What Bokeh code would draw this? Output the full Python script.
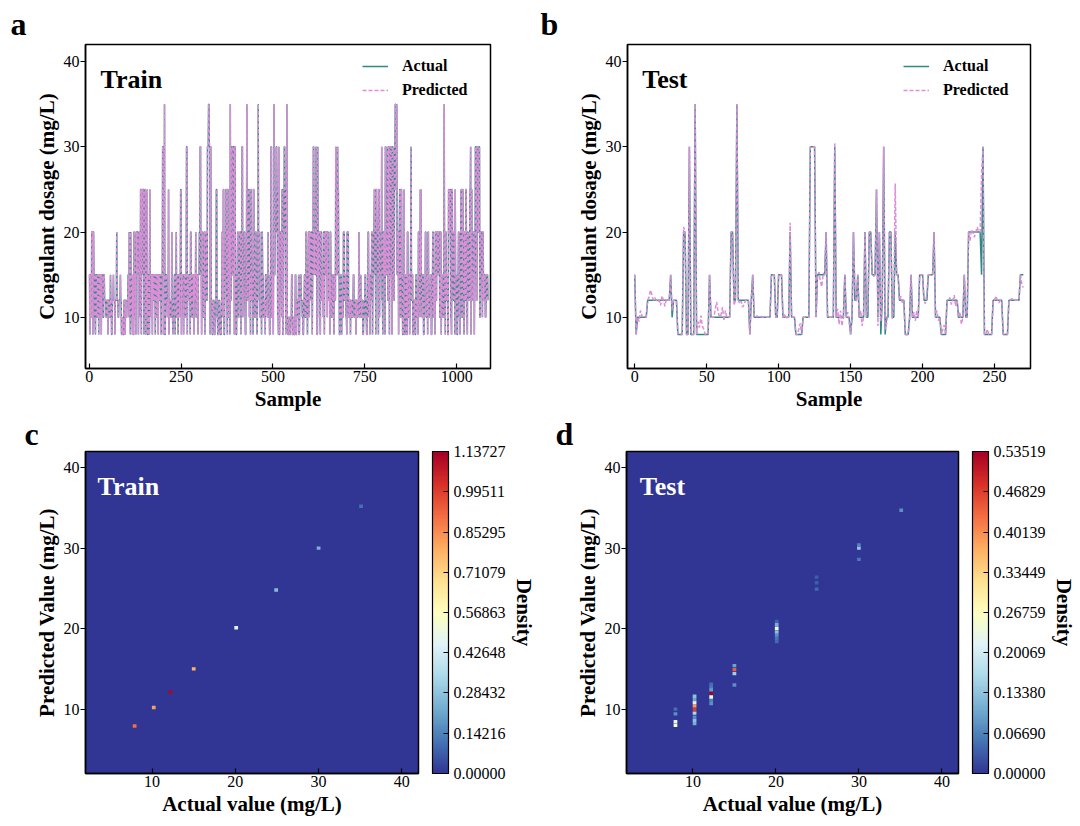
import numpy as np
from bokeh.plotting import figure
from bokeh.layouts import column, row
from bokeh.models import (Range1d, FixedTicker, Legend, LegendItem, Label, ColorBar,
                          LinearColorMapper, PrintfTickFormatter, Title, ColumnDataSource)
from bokeh.transform import transform
from bokeh.embed import file_html
from bokeh.resources import INLINE

# ---------------- data ----------------
# Train series as (dosage level, run length) pairs
train_segments = [
    (15,2),(8,1),(15,2),(10,2),(20,3),(8,1),(20,2),(15,2),(10,2),(8,1),(15,3),(10,2),
    (15,3),(8,1),(15,2),(10,1),(15,3),(8,1),(15,4),(10,2),(15,2),
    (12,4),(10,2),(12,3),(8,1),(12,4),(10,2),(15,1),(12,2),
    (8,2),(12,3),(15,1),(12,3),(8,1),(12,4),(20,1),(12,3),(10,2),(12,4),
    (15,1),(12,2),(8,3),(10,1),(8,3),(12,3),(8,1),(12,2),(10,2),(12,3),
    (15,2),(10,1),(20,1),(15,2),(8,1),(20,1),(15,2),(10,2),(8,1),(15,1),
    (8,2),(20,2),(10,1),(15,2),(8,1),(20,2),(15,1),(20,3),(8,1),(15,2),(20,2),
    (10,1),(25,2),(8,1),(25,2),(15,1),(25,3),(8,1),(15,2),(25,2),(8,1),(15,2),
    (10,1),(25,1),(8,2),(15,3),(8,1),(25,1),(15,3),(10,1),(15,2),(8,1),
    (15,2),(12,2),(15,3),(8,1),(15,2),(10,2),(15,3),(8,1),(15,2),(12,2),
    (15,3),(8,1),(15,3),
    (30,2),(8,1),(15,2),(35,1),(8,2),(15,3),(12,2),(10,1),(12,2),(25,1),
    (8,1),(12,3),(10,2),(12,2),(20,1),(10,2),(8,1),(12,3),(15,2),(8,1),
    (15,2),(20,1),(10,2),(15,2),(8,1),(15,3),(10,1),(15,2),(25,2),(8,1),
    (15,3),(12,2),(8,1),(15,3),(10,2),(15,2),(30,2),(8,1),(15,2),
    (12,3),(15,2),(8,1),(20,2),(12,2),(10,2),(15,3),(8,1),
    (15,2),(12,2),(20,1),(10,2),(15,3),(8,1),(15,3),
    (20,2),(30,2),(15,2),(8,1),(20,2),(15,2),(10,2),(20,2),(8,1),(15,2),
    (20,2),(12,2),(30,3),(35,2),(30,2),(8,1),(30,2),(12,3),
    (8,2),(12,2),(10,2),(8,2),(12,3),(25,2),(10,2),(8,3),
    (12,2),(10,2),(8,3),(12,2),(20,2),(10,1),(25,2),(8,2),
    (15,3),(25,2),(12,2),(8,1),(25,2),(10,2),(20,2),(8,1),(35,1),
    (12,2),(30,3),(15,2),(30,3),(8,1),(30,2),(12,2),
    (8,2),(15,2),(20,2),(10,2),(15,2),(20,3),(8,1),(15,2),(30,2),(10,1),
    (15,3),(20,2),(12,1),(8,2),(15,2),(35,1),(12,2),(15,2),(25,2),(10,1),(15,2),
    (8,1),(25,2),(12,2),(15,2),(8,1),(25,2),(15,2),(10,2),(20,2),(12,2),
    (8,1),(12,2),(35,1),(15,2),(20,2),(10,2),(15,2),(8,1),(20,2),(15,2),
    (10,3),(12,2),(8,1),(15,3),(12,2),(10,2),(20,1),(12,3),
    (8,2),(15,2),(30,2),(10,2),(15,2),(8,1),(20,1),
    (35,1),(15,2),(20,3),(30,2),(25,2),(10,2),(8,1),(30,1),(8,2),(15,2),
    (20,3),(10,1),(25,2),(8,2),(20,2),(30,2),(25,2),(8,1),(10,2),
    (35,1),(10,2),(8,2),(10,3),(8,2),(10,3),(15,2),(8,3),
    (10,2),(8,3),(15,2),(8,2),(12,3),(10,2),(15,1),(8,2),
    (12,2),(15,2),(12,3),(10,2),(8,2),(12,2),(15,2),(10,2),
    (20,2),(12,2),(8,1),(15,2),(20,2),(10,1),(20,2),(12,1),
    (15,2),(20,2),(8,1),(15,2),(30,2),(15,1),(20,2),(15,2),(30,1),(20,2),(8,2),
    (30,1),(15,2),(20,2),(10,2),(8,1),(20,3),(12,2),(15,2),(10,1),
    (20,2),(8,1),(20,3),(15,2),(20,2),(10,1),(20,2),(12,2),(15,2),(8,1),
    (20,2),(12,2),(10,2),(15,2),(12,2),(8,1),(15,2),(12,2),(30,1),(25,2),(15,2),
    (30,1),(25,2),(15,2),(8,2),(12,2),(15,2),(8,1),(12,2),(10,2),
    (20,3),(12,2),(15,2),(10,2),(8,1),(20,1),
    (20,3),(10,2),(12,3),(8,1),(12,2),(10,3),(12,2),(15,2),(10,2),
    (12,3),(8,1),(12,2),(10,2),(12,3),(20,1),(10,2),(12,2),(15,1),(10,2),
    (12,3),(8,2),(10,2),(12,2),(15,2),(10,2),(8,2),(12,2),
    (20,2),(10,1),(15,2),(8,1),(12,2),(15,2),(20,2),(8,1),(15,2),(20,2),
    (25,2),(15,2),(8,1),(25,2),(20,2),(15,2),(8,1),(25,2),(10,1),
    (15,3),(20,2),(30,1),(12,2),(8,1),(20,2),(15,1),
    (20,2),(8,1),(30,2),(15,2),(20,2),(30,1),(12,2),(30,2),(8,1),(20,2),(30,2),
    (15,2),(8,1),(30,2),(20,2),(12,2),(30,2),(35,2),(25,2),(35,1),(15,2),
    (20,2),(8,1),(20,2),(25,2),(10,2),(25,2),(15,2),(8,2),(10,2),
    (25,1),(8,2),(10,2),(15,2),(8,2),(20,2),(10,2),(15,2),(8,1),(12,2),
    (20,1),(30,1),(12,2),(15,2),(8,2),(10,2),(12,2),(8,2),(15,2),(10,2),
    (12,2),(8,1),(20,2),(12,2),(10,1),(25,1),(15,1),
    (25,1),(12,2),(10,2),(15,2),(8,2),(12,3),(20,2),(10,2),(15,2),
    (8,1),(20,2),(10,2),(12,3),(15,2),(8,2),(12,2),(20,2),
    (10,2),(15,2),(8,1),(20,2),(12,2),(20,3),(15,2),(20,3),(10,2),
    (20,2),(8,1),(15,2),(12,2),(10,2),(15,1),(35,1),(15,2),(8,1),
    (20,2),(12,2),(15,2),(8,2),(25,2),(20,2),(25,2),(10,2),(8,1),(25,2),
    (15,2),(12,2),(20,2),(8,1),(25,1),(15,2),(12,2),(8,2),
    (15,2),(20,2),(10,2),(8,1),(20,2),(25,2),(10,2),(25,2),(15,2),(8,1),(20,2),
    (12,2),(25,2),(10,2),(8,1),(20,2),(15,2),(12,2),(25,2),(30,1),(8,1),
    (25,2),(15,2),(12,2),(20,2),(8,1),(15,2),(30,3),(12,2),(30,3),(20,2),
    (30,2),(10,2),(20,3),(15,2),(10,1),(20,2),(12,2),(15,3),(10,2),(12,2),(15,3),(12,1),
]

# Test series (actual) as level / run-length lists
test_levels = [15,8,10,12,15,10,12,8,20,8, 30,8,35,8,15,10,20,12,35,12,
               8,12,15,10,15,10,15,10,20,10, 8,10,30,10,15,20,10,30,10,15,
               10,8,10,20,12,15,10,20,10,20, 15,25,10,20,8,12,30,8,10,20,
               10,20,15,12,8,10,15,10,15,12, 15,20,10,8,12,10,15,10,20,15,
               30,8,12,8,12,15]
test_runs = [1,1,7,16,1,1,3,4,2,2, 1,3,1,9,1,14,2,2,1,8,
             1,1,1,12,3,2,3,5,1,3, 5,5,4,1,6,1,5,1,6,1,
             3,1,1,1,2,1,4,1,2,2, 3,1,1,1,1,1,1,1,2,2,
             2,1,2,4,3,1,1,5,3,3, 4,1,4,4,8,4,1,2,9,1,
             1,6,7,4,8,3]
# Test predictions that visibly differ from the actual value (sample index -> value)
test_pred_idx = [3,4,5,10,11,12,14,16,18,19,21,22,26,34,44,45,46,47,48,56,57,58,60,61,62,63,
                 69,73,74,75,76,85,88,104,105,108,114,115,128,129,130,131,139,141,142,143,144,
                 148,149,153,154,157,158,162,166,169,171,174,175,176,179,180,181,185,186,191,
                 194,195,196,202,203,210,211,214,215,219,220,222,223,226,227,233,234,236,238,
                 241,245,251,253,262,269,270]
test_pred_val = [9.5,10.8,10.2,12.4,13.2,12.6,12.3,11.8,11.4,12.5,11.3,12.2,10.8,20.6,9.5,8.8,10.2,9.0,8.6,
                 11.0,11.8,10.6,10.3,11.2,9.6,10.8,
                 11.4,11.6,11.9,11.2,11.5,10.2,10.1,10.4,9.8,21.1,8.6,9.3,15.3,14.2,13.6,15.2,30.5,
                 11.0,9.2,10.8,9.0,
                 10.6,9.4,13.5,11.8,10.8,9.0,11.5,14.8,9.0,9.5,8.6,9.2,11.0,9.8,11.6,25.7,12.5,11.6,9.4,
                 10.6,9.6,10.8,11.6,12.8,10.8,9.6,8.5,9.1,12.3,11.5,12.6,11.3,10.6,9.2,19.0,20.3,19.4,20.6,
                 26.9,8.6,12.5,11.7,12.2,13.8,13.5]

# Density heat-map cells (actual, predicted, density)
heat_train_actual = [7.9, 10.2, 12.2, 15.0, 20.1, 24.9, 30.0, 35.1]
heat_train_pred = [7.9, 10.2, 12.1, 15.0, 20.1, 24.8, 30.0, 35.2]
heat_train_density = [0.91, 0.82, 1.12, 0.78, 0.46, 0.27, 0.24, 0.11]

heat_test_actual = [7.9,7.9,7.9,7.9,
                    10.2,10.2,10.2,10.2,10.2,10.2,10.2,10.2,10.2,
                    12.2,12.2,12.2,12.2,12.2,12.2,12.2,
                    15.0,15.0,15.0,15.0,
                    20.1,20.1,20.1,20.1,20.1,20.1,20.1,
                    24.9,24.9,24.9, 30.0,30.0,30.0, 35.1]
heat_test_pred = [8.0,8.45,9.4,10.0,
                  8.2,8.6,9.0,9.5,9.95,10.4,10.8,11.2,11.6,
                  10.7,11.1,11.5,12.0,12.4,12.8,13.1,
                  13.0,14.4,14.9,15.4,
                  18.4,18.8,19.2,19.6,20.05,20.5,20.9,
                  24.9,25.7,26.4, 28.6,30.0,30.4, 34.7]
heat_test_density = [0.27,0.22,0.08,0.05,
                     0.11,0.13,0.08,0.16,0.47,0.39,0.22,0.10,0.13,
                     0.08,0.065,0.24,0.535,0.09,0.06,0.05,
                     0.08,0.15,0.44,0.10,
                     0.045,0.055,0.08,0.13,0.24,0.11,0.04,
                     0.045,0.035,0.035, 0.06,0.14,0.07, 0.08]

train_cbar_ticks = [0.00000, 0.14216, 0.28432, 0.42648, 0.56863, 0.71079, 0.85295, 0.99511, 1.13727]
test_cbar_ticks = [0.00000, 0.06690, 0.13380, 0.20069, 0.26759, 0.33449, 0.40139, 0.46829, 0.53519]

# ---------------- style ----------------
FONT = "Liberation Serif"
TEAL = "#2e8b84"
PINK = "#dc8ed6"
RDYLBU = ['#313695', '#4575b4', '#74add1', '#abd9e9', '#e0f3f8', '#ffffbf',
          '#fee090', '#fdae61', '#f46d43', '#d73027', '#a50026']


def interp_pal(colors, n):
    rgb = np.array([[int(c[i:i + 2], 16) for i in (1, 3, 5)] for c in colors], float)
    t = np.linspace(0, 1, len(colors))
    tt = np.linspace(0, 1, n)
    out = np.stack([np.interp(tt, t, rgb[:, k]) for k in range(3)], 1)
    return ["#%02x%02x%02x" % tuple(int(round(v)) for v in r) for r in out]


PAL = interp_pal(RDYLBU, 256)


def make_fig(w, h, xr, yr, left, right, top, bottom, letter, offset, standoff):
    p = figure(width=w, height=h, x_range=Range1d(*xr), y_range=Range1d(*yr),
               output_backend="svg", toolbar_location=None,
               min_border_left=left, min_border_right=right,
               min_border_top=top, min_border_bottom=bottom)
    p.outline_line_color = "black"
    p.outline_line_width = 1.5
    p.grid.visible = False
    p.border_fill_color = "white"
    p.title.text = letter
    p.title.text_font = FONT
    p.title.text_font_style = "bold"
    p.title.text_font_size = "32px"
    p.title.text_color = "black"
    p.title.align = "left"
    p.title.offset = offset
    p.title.standoff = standoff
    return p


def style_axes(p, xticks, yticks, xlabel, ylabel):
    for ax, ticks, lab in ((p.xaxis[0], xticks, xlabel), (p.yaxis[0], yticks, ylabel)):
        ax.ticker = FixedTicker(ticks=ticks)
        ax.axis_label = lab
        ax.axis_label_text_font = FONT
        ax.axis_label_text_font_style = "bold"
        ax.axis_label_text_font_size = "21px"
        ax.axis_label_text_color = "black"
        ax.major_label_text_font = FONT
        ax.major_label_text_font_size = "16px"
        ax.major_label_text_color = "black"
        ax.major_tick_line_color = "black"
        ax.major_tick_line_width = 1.2
        ax.minor_tick_line_color = None
        ax.axis_line_color = "black"
        ax.axis_line_width = 1.5
    xa, ya = p.xaxis[0], p.yaxis[0]
    xa.major_tick_in, xa.major_tick_out = 5, 0
    ya.major_tick_in, ya.major_tick_out = 0, 5
    xa.major_label_standoff = 2
    xa.axis_label_standoff = 2
    ya.major_label_standoff = 1
    ya.axis_label_standoff = 2


def series_panel(p, actual, pred, label, lx, ly, leg_xy):
    x = np.arange(len(actual))
    r1 = p.line(x, actual, line_color=TEAL, line_width=1.5)
    r2 = p.line(x, pred, line_color=PINK, line_width=1.5, line_dash="4 2")
    leg = Legend(items=[LegendItem(label="Actual", renderers=[r1]),
                        LegendItem(label="Predicted", renderers=[r2])],
                 location=leg_xy, margin=0, padding=4, spacing=6,
                 glyph_width=26, glyph_height=18, label_height=18, label_standoff=14,
                 label_text_font=FONT, label_text_font_style="bold", label_text_font_size="16px",
                 label_text_color="black",
                 border_line_color=None, background_fill_alpha=0)
    p.add_layout(leg)
    p.add_layout(Label(x=lx, y=ly, text=label, text_font=FONT, text_font_style="bold",
                       text_font_size="26px", text_color="black", text_baseline="alphabetic"))


def heat_panel(p, ax_, pr_, dens, ticks, label, lx, ly):
    mapper = LinearColorMapper(palette=PAL, low=0, high=ticks[-1])
    p.background_fill_color = PAL[0]
    src = ColumnDataSource(dict(x=ax_, y=pr_, d=dens))
    p.rect("x", "y", width=0.45, height=0.42, source=src,
           fill_color=transform("d", mapper), line_color=None)
    # small spacer between the frame and the colour bar
    p.add_layout(Title(text=" ", text_font_size="1px", standoff=11), "right")
    cb = ColorBar(color_mapper=mapper, ticker=FixedTicker(ticks=ticks),
                  formatter=PrintfTickFormatter(format="%.5f"),
                  width=16, padding=0, margin=0,
                  major_label_text_font=FONT, major_label_text_font_size="16px",
                  major_label_text_color="black",
                  major_tick_in=5, major_tick_out=0, major_tick_line_color="black",
                  minor_tick_line_color=None, bar_line_color="black", bar_line_width=1.2,
                  label_standoff=5, border_line_color=None, background_fill_alpha=0)
    p.add_layout(cb, "right")
    p.add_layout(Title(text="Density", align="center", text_font=FONT, text_font_style="bold",
                       text_font_size="21px", text_color="black", standoff=6), "right")
    p.add_layout(Label(x=lx, y=ly, text=label, text_font=FONT, text_font_style="bold",
                       text_font_size="26px", text_color="white", text_baseline="alphabetic"))


train_actual = np.repeat([s[0] for s in train_segments], [s[1] for s in train_segments]).astype(float)
train_pred = train_actual.copy()   # train predictions coincide with the actual values
test_actual = np.repeat(test_levels, test_runs).astype(float)
test_pred = test_actual.copy()
test_pred[test_pred_idx] = test_pred_val

# ---- panel a ----  (frame 85..490 x 44..368)
pa = make_fig(540, 413, (-10, 1092), (4, 42), 85, 50, 44, 45, "a", -75, 5)
style_axes(pa, [0, 250, 500, 750, 1000], [10, 20, 30, 40], "Sample", "Coagulant dosage (mg/L)")
series_panel(pa, train_actual, train_pred, "Train", 30.8, 37.86, (277, 269))

# ---- panel b ----  (frame 627..1030)
pb = make_fig(540, 413, (-5, 275), (4, 42), 87, 50, 44, 45, "b", -87, 5)
style_axes(pb, [0, 50, 100, 150, 200, 250], [10, 20, 30, 40], "Sample", "Coagulant dosage (mg/L)")
series_panel(pb, test_actual, test_pred, "Test", 5.2, 37.86, (276, 269))

# ---- panel c ----  (frame 85..419 x 449..773)
pc = make_fig(540, 408, (2, 42), (2, 42), 85, 121, 36, 48, "c", -61, 0)
style_axes(pc, [10, 20, 30, 40], [10, 20, 30, 40], "Actual value (mg/L)", "Predicted Value (mg/L)")
heat_panel(pc, heat_train_actual, heat_train_pred, heat_train_density, train_cbar_ticks, "Train", 3.44, 37.64)

# ---- panel d ----  (frame 626..961)
pd_ = make_fig(540, 408, (2, 42), (2, 42), 86, 119, 36, 48, "d", -71, 0)
style_axes(pd_, [10, 20, 30, 40], [10, 20, 30, 40], "Actual value (mg/L)", "Predicted Value (mg/L)")
heat_panel(pd_, heat_test_actual, heat_test_pred, heat_test_density, test_cbar_ticks, "Test", 3.6, 37.64)

layout = column(row(pa, pb), row(pc, pd_))
open("out.html", "w").write(file_html(layout, INLINE))
